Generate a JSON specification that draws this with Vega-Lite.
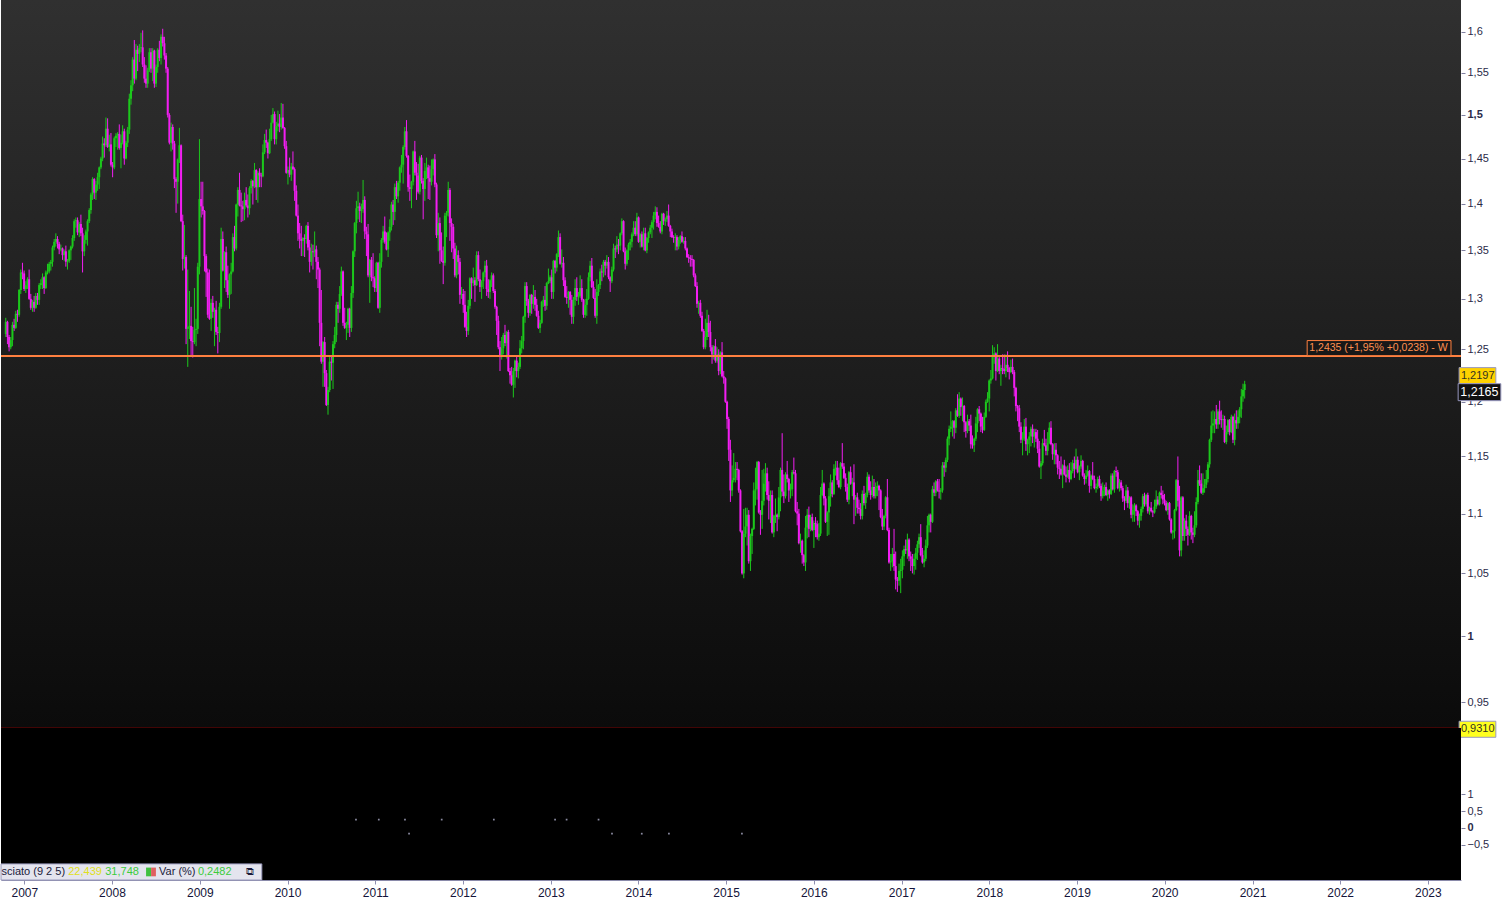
{
"$schema":"https://vega.github.io/schema/vega-lite/v6.json",
"background":"#ffffff",
"padding":0,
"spacing":0,
"bounds":"flush",
"config":{"view":{"stroke":null},"font":"Liberation Sans","axis":{"title":null,"grid":false,"domain":false,"labelFont":"Liberation Sans","labelFontSize":11,"labelColor":"#2a2a48","tickColor":"#8080a0","tickSize":4,"labelPadding":2}},
"datasets":{"ohlc":[
{"d":"2006-09-25","o":1.265,"h":1.281,"l":1.262,"c":1.277},
{"d":"2006-10-02","o":1.277,"h":1.278,"l":1.255,"c":1.262},
{"d":"2006-10-09","o":1.262,"h":1.264,"l":1.248,"c":1.252},
{"d":"2006-10-16","o":1.252,"h":1.262,"l":1.25,"c":1.259},
{"d":"2006-10-23","o":1.259,"h":1.277,"l":1.253,"c":1.274},
{"d":"2006-10-30","o":1.274,"h":1.28,"l":1.268,"c":1.271},
{"d":"2006-11-06","o":1.271,"h":1.288,"l":1.27,"c":1.285},
{"d":"2006-11-13","o":1.285,"h":1.289,"l":1.277,"c":1.284},
{"d":"2006-11-20","o":1.284,"h":1.31,"l":1.282,"c":1.309},
{"d":"2006-11-27","o":1.309,"h":1.33,"l":1.305,"c":1.327},
{"d":"2006-12-04","o":1.327,"h":1.337,"l":1.32,"c":1.326},
{"d":"2006-12-11","o":1.326,"h":1.329,"l":1.308,"c":1.31},
{"d":"2006-12-18","o":1.31,"h":1.318,"l":1.306,"c":1.314},
{"d":"2006-12-25","o":1.314,"h":1.322,"l":1.31,"c":1.32},
{"d":"2007-01-01","o":1.32,"h":1.33,"l":1.299,"c":1.3},
{"d":"2007-01-08","o":1.3,"h":1.305,"l":1.289,"c":1.291},
{"d":"2007-01-15","o":1.291,"h":1.299,"l":1.287,"c":1.297},
{"d":"2007-01-22","o":1.297,"h":1.303,"l":1.287,"c":1.291},
{"d":"2007-01-29","o":1.291,"h":1.306,"l":1.29,"c":1.303},
{"d":"2007-02-05","o":1.303,"h":1.306,"l":1.294,"c":1.299},
{"d":"2007-02-12","o":1.299,"h":1.316,"l":1.294,"c":1.314},
{"d":"2007-02-19","o":1.314,"h":1.32,"l":1.31,"c":1.316},
{"d":"2007-02-26","o":1.316,"h":1.326,"l":1.31,"c":1.322},
{"d":"2007-03-05","o":1.322,"h":1.323,"l":1.305,"c":1.311},
{"d":"2007-03-12","o":1.311,"h":1.329,"l":1.31,"c":1.327},
{"d":"2007-03-19","o":1.327,"h":1.336,"l":1.325,"c":1.328},
{"d":"2007-03-26","o":1.328,"h":1.338,"l":1.326,"c":1.336},
{"d":"2007-04-02","o":1.336,"h":1.34,"l":1.329,"c":1.338},
{"d":"2007-04-09","o":1.338,"h":1.355,"l":1.333,"c":1.353},
{"d":"2007-04-16","o":1.353,"h":1.362,"l":1.35,"c":1.359},
{"d":"2007-04-23","o":1.359,"h":1.368,"l":1.354,"c":1.362},
{"d":"2007-04-30","o":1.362,"h":1.365,"l":1.352,"c":1.357},
{"d":"2007-05-07","o":1.357,"h":1.359,"l":1.346,"c":1.351},
{"d":"2007-05-14","o":1.351,"h":1.356,"l":1.349,"c":1.352},
{"d":"2007-05-21","o":1.352,"h":1.353,"l":1.34,"c":1.345},
{"d":"2007-05-28","o":1.345,"h":1.351,"l":1.339,"c":1.349},
{"d":"2007-06-04","o":1.349,"h":1.355,"l":1.333,"c":1.338},
{"d":"2007-06-11","o":1.338,"h":1.341,"l":1.33,"c":1.339},
{"d":"2007-06-18","o":1.339,"h":1.351,"l":1.337,"c":1.35},
{"d":"2007-06-25","o":1.35,"h":1.355,"l":1.34,"c":1.354},
{"d":"2007-07-02","o":1.354,"h":1.366,"l":1.352,"c":1.363},
{"d":"2007-07-09","o":1.363,"h":1.383,"l":1.36,"c":1.381},
{"d":"2007-07-16","o":1.381,"h":1.385,"l":1.374,"c":1.382},
{"d":"2007-07-23","o":1.382,"h":1.385,"l":1.366,"c":1.369},
{"d":"2007-07-30","o":1.369,"h":1.38,"l":1.364,"c":1.378},
{"d":"2007-08-06","o":1.378,"h":1.388,"l":1.365,"c":1.368},
{"d":"2007-08-13","o":1.368,"h":1.374,"l":1.327,"c":1.349},
{"d":"2007-08-20","o":1.349,"h":1.366,"l":1.344,"c":1.361},
{"d":"2007-08-27","o":1.361,"h":1.372,"l":1.357,"c":1.37},
{"d":"2007-09-03","o":1.37,"h":1.383,"l":1.355,"c":1.381},
{"d":"2007-09-10","o":1.381,"h":1.395,"l":1.379,"c":1.393},
{"d":"2007-09-17","o":1.393,"h":1.412,"l":1.389,"c":1.41},
{"d":"2007-09-24","o":1.41,"h":1.429,"l":1.404,"c":1.427},
{"d":"2007-10-01","o":1.427,"h":1.428,"l":1.405,"c":1.412},
{"d":"2007-10-08","o":1.412,"h":1.425,"l":1.404,"c":1.421},
{"d":"2007-10-15","o":1.421,"h":1.434,"l":1.414,"c":1.429},
{"d":"2007-10-22","o":1.429,"h":1.441,"l":1.416,"c":1.44},
{"d":"2007-10-29","o":1.44,"h":1.452,"l":1.438,"c":1.45},
{"d":"2007-11-05","o":1.45,"h":1.475,"l":1.447,"c":1.467},
{"d":"2007-11-12","o":1.467,"h":1.473,"l":1.451,"c":1.465},
{"d":"2007-11-19","o":1.465,"h":1.497,"l":1.463,"c":1.484},
{"d":"2007-11-26","o":1.484,"h":1.496,"l":1.462,"c":1.463},
{"d":"2007-12-03","o":1.463,"h":1.477,"l":1.458,"c":1.466},
{"d":"2007-12-10","o":1.466,"h":1.479,"l":1.441,"c":1.443},
{"d":"2007-12-17","o":1.443,"h":1.446,"l":1.429,"c":1.44},
{"d":"2007-12-24","o":1.44,"h":1.475,"l":1.438,"c":1.473},
{"d":"2007-12-31","o":1.473,"h":1.479,"l":1.463,"c":1.476},
{"d":"2008-01-07","o":1.476,"h":1.48,"l":1.46,"c":1.478},
{"d":"2008-01-14","o":1.478,"h":1.489,"l":1.46,"c":1.462},
{"d":"2008-01-21","o":1.462,"h":1.477,"l":1.439,"c":1.468},
{"d":"2008-01-28","o":1.468,"h":1.488,"l":1.466,"c":1.481},
{"d":"2008-02-04","o":1.481,"h":1.484,"l":1.443,"c":1.45},
{"d":"2008-02-11","o":1.45,"h":1.47,"l":1.449,"c":1.468},
{"d":"2008-02-18","o":1.468,"h":1.486,"l":1.463,"c":1.483},
{"d":"2008-02-25","o":1.483,"h":1.525,"l":1.478,"c":1.519},
{"d":"2008-03-03","o":1.519,"h":1.541,"l":1.512,"c":1.535},
{"d":"2008-03-10","o":1.535,"h":1.569,"l":1.528,"c":1.566},
{"d":"2008-03-17","o":1.566,"h":1.59,"l":1.537,"c":1.543},
{"d":"2008-03-24","o":1.543,"h":1.585,"l":1.541,"c":1.578},
{"d":"2008-03-31","o":1.578,"h":1.583,"l":1.552,"c":1.573},
{"d":"2008-04-07","o":1.573,"h":1.585,"l":1.563,"c":1.58},
{"d":"2008-04-14","o":1.58,"h":1.599,"l":1.575,"c":1.581},
{"d":"2008-04-21","o":1.581,"h":1.602,"l":1.557,"c":1.56},
{"d":"2008-04-28","o":1.56,"h":1.569,"l":1.538,"c":1.543},
{"d":"2008-05-05","o":1.543,"h":1.559,"l":1.532,"c":1.537},
{"d":"2008-05-12","o":1.537,"h":1.556,"l":1.532,"c":1.553},
{"d":"2008-05-19","o":1.553,"h":1.58,"l":1.551,"c":1.575},
{"d":"2008-05-26","o":1.575,"h":1.58,"l":1.55,"c":1.555},
{"d":"2008-06-02","o":1.555,"h":1.58,"l":1.54,"c":1.577},
{"d":"2008-06-09","o":1.577,"h":1.578,"l":1.532,"c":1.537},
{"d":"2008-06-16","o":1.537,"h":1.56,"l":1.533,"c":1.557},
{"d":"2008-06-23","o":1.557,"h":1.58,"l":1.55,"c":1.578},
{"d":"2008-06-30","o":1.578,"h":1.589,"l":1.564,"c":1.568},
{"d":"2008-07-07","o":1.568,"h":1.597,"l":1.56,"c":1.594},
{"d":"2008-07-14","o":1.594,"h":1.604,"l":1.582,"c":1.586},
{"d":"2008-07-21","o":1.586,"h":1.594,"l":1.566,"c":1.571},
{"d":"2008-07-28","o":1.571,"h":1.574,"l":1.55,"c":1.555},
{"d":"2008-08-04","o":1.555,"h":1.557,"l":1.497,"c":1.5},
{"d":"2008-08-11","o":1.5,"h":1.502,"l":1.466,"c":1.468},
{"d":"2008-08-18","o":1.468,"h":1.491,"l":1.458,"c":1.486},
{"d":"2008-08-25","o":1.486,"h":1.489,"l":1.46,"c":1.467},
{"d":"2008-09-01","o":1.467,"h":1.47,"l":1.417,"c":1.427},
{"d":"2008-09-08","o":1.427,"h":1.429,"l":1.39,"c":1.424},
{"d":"2008-09-15","o":1.424,"h":1.45,"l":1.4,"c":1.449},
{"d":"2008-09-22","o":1.449,"h":1.485,"l":1.445,"c":1.465},
{"d":"2008-09-29","o":1.465,"h":1.466,"l":1.38,"c":1.381},
{"d":"2008-10-06","o":1.381,"h":1.388,"l":1.329,"c":1.341},
{"d":"2008-10-13","o":1.341,"h":1.377,"l":1.331,"c":1.343},
{"d":"2008-10-20","o":1.343,"h":1.345,"l":1.255,"c":1.27},
{"d":"2008-10-27","o":1.27,"h":1.33,"l":1.233,"c":1.272},
{"d":"2008-11-03","o":1.272,"h":1.308,"l":1.26,"c":1.273},
{"d":"2008-11-10","o":1.273,"h":1.292,"l":1.244,"c":1.258},
{"d":"2008-11-17","o":1.258,"h":1.272,"l":1.242,"c":1.257},
{"d":"2008-11-24","o":1.257,"h":1.311,"l":1.255,"c":1.269},
{"d":"2008-12-01","o":1.269,"h":1.28,"l":1.253,"c":1.27},
{"d":"2008-12-08","o":1.27,"h":1.337,"l":1.265,"c":1.333},
{"d":"2008-12-15","o":1.333,"h":1.472,"l":1.325,"c":1.405},
{"d":"2008-12-22","o":1.405,"h":1.424,"l":1.385,"c":1.397},
{"d":"2008-12-29","o":1.397,"h":1.424,"l":1.388,"c":1.392},
{"d":"2009-01-05","o":1.392,"h":1.393,"l":1.328,"c":1.344},
{"d":"2009-01-12","o":1.344,"h":1.346,"l":1.302,"c":1.327},
{"d":"2009-01-19","o":1.327,"h":1.331,"l":1.281,"c":1.284},
{"d":"2009-01-26","o":1.284,"h":1.33,"l":1.279,"c":1.28},
{"d":"2009-02-02","o":1.28,"h":1.3,"l":1.268,"c":1.296},
{"d":"2009-02-09","o":1.296,"h":1.303,"l":1.281,"c":1.287},
{"d":"2009-02-16","o":1.287,"h":1.291,"l":1.253,"c":1.289},
{"d":"2009-02-23","o":1.289,"h":1.298,"l":1.264,"c":1.267},
{"d":"2009-03-02","o":1.267,"h":1.272,"l":1.246,"c":1.266},
{"d":"2009-03-09","o":1.266,"h":1.296,"l":1.257,"c":1.292},
{"d":"2009-03-16","o":1.292,"h":1.374,"l":1.29,"c":1.362},
{"d":"2009-03-23","o":1.362,"h":1.37,"l":1.328,"c":1.329},
{"d":"2009-03-30","o":1.329,"h":1.349,"l":1.311,"c":1.348},
{"d":"2009-04-06","o":1.348,"h":1.354,"l":1.307,"c":1.319},
{"d":"2009-04-13","o":1.319,"h":1.334,"l":1.301,"c":1.304},
{"d":"2009-04-20","o":1.304,"h":1.326,"l":1.29,"c":1.325},
{"d":"2009-04-27","o":1.325,"h":1.337,"l":1.305,"c":1.328},
{"d":"2009-05-04","o":1.328,"h":1.368,"l":1.327,"c":1.364},
{"d":"2009-05-11","o":1.364,"h":1.376,"l":1.349,"c":1.352},
{"d":"2009-05-18","o":1.352,"h":1.4,"l":1.35,"c":1.399},
{"d":"2009-05-25","o":1.399,"h":1.418,"l":1.386,"c":1.415},
{"d":"2009-06-01","o":1.415,"h":1.434,"l":1.397,"c":1.398},
{"d":"2009-06-08","o":1.398,"h":1.412,"l":1.38,"c":1.397},
{"d":"2009-06-15","o":1.397,"h":1.403,"l":1.381,"c":1.394},
{"d":"2009-06-22","o":1.394,"h":1.412,"l":1.382,"c":1.404},
{"d":"2009-06-29","o":1.404,"h":1.418,"l":1.396,"c":1.398},
{"d":"2009-07-06","o":1.398,"h":1.41,"l":1.385,"c":1.395},
{"d":"2009-07-13","o":1.395,"h":1.419,"l":1.388,"c":1.417},
{"d":"2009-07-20","o":1.417,"h":1.427,"l":1.411,"c":1.425},
{"d":"2009-07-27","o":1.425,"h":1.426,"l":1.399,"c":1.419},
{"d":"2009-08-03","o":1.419,"h":1.445,"l":1.417,"c":1.437},
{"d":"2009-08-10","o":1.437,"h":1.438,"l":1.404,"c":1.418},
{"d":"2009-08-17","o":1.418,"h":1.436,"l":1.401,"c":1.434},
{"d":"2009-08-24","o":1.434,"h":1.439,"l":1.418,"c":1.431},
{"d":"2009-08-31","o":1.431,"h":1.434,"l":1.418,"c":1.43},
{"d":"2009-09-07","o":1.43,"h":1.466,"l":1.429,"c":1.457},
{"d":"2009-09-14","o":1.457,"h":1.478,"l":1.455,"c":1.471},
{"d":"2009-09-21","o":1.471,"h":1.483,"l":1.462,"c":1.468},
{"d":"2009-09-28","o":1.468,"h":1.469,"l":1.45,"c":1.456},
{"d":"2009-10-05","o":1.456,"h":1.484,"l":1.455,"c":1.472},
{"d":"2009-10-12","o":1.472,"h":1.5,"l":1.47,"c":1.491},
{"d":"2009-10-19","o":1.491,"h":1.508,"l":1.49,"c":1.501},
{"d":"2009-10-26","o":1.501,"h":1.504,"l":1.466,"c":1.472},
{"d":"2009-11-02","o":1.472,"h":1.492,"l":1.466,"c":1.487},
{"d":"2009-11-09","o":1.487,"h":1.505,"l":1.481,"c":1.49},
{"d":"2009-11-16","o":1.49,"h":1.501,"l":1.48,"c":1.486},
{"d":"2009-11-23","o":1.486,"h":1.514,"l":1.483,"c":1.497},
{"d":"2009-11-30","o":1.497,"h":1.513,"l":1.484,"c":1.485},
{"d":"2009-12-07","o":1.485,"h":1.486,"l":1.461,"c":1.464},
{"d":"2009-12-14","o":1.464,"h":1.47,"l":1.433,"c":1.434},
{"d":"2009-12-21","o":1.434,"h":1.441,"l":1.421,"c":1.437},
{"d":"2009-12-28","o":1.437,"h":1.451,"l":1.429,"c":1.432},
{"d":"2010-01-04","o":1.432,"h":1.445,"l":1.425,"c":1.441},
{"d":"2010-01-11","o":1.441,"h":1.458,"l":1.437,"c":1.438},
{"d":"2010-01-18","o":1.438,"h":1.44,"l":1.403,"c":1.414},
{"d":"2010-01-25","o":1.414,"h":1.42,"l":1.386,"c":1.387},
{"d":"2010-02-01","o":1.387,"h":1.399,"l":1.36,"c":1.368},
{"d":"2010-02-08","o":1.368,"h":1.379,"l":1.352,"c":1.362},
{"d":"2010-02-15","o":1.362,"h":1.376,"l":1.344,"c":1.36},
{"d":"2010-02-22","o":1.36,"h":1.364,"l":1.344,"c":1.363},
{"d":"2010-03-01","o":1.363,"h":1.367,"l":1.343,"c":1.362},
{"d":"2010-03-08","o":1.362,"h":1.377,"l":1.357,"c":1.376},
{"d":"2010-03-15","o":1.376,"h":1.38,"l":1.35,"c":1.353},
{"d":"2010-03-22","o":1.353,"h":1.361,"l":1.327,"c":1.338},
{"d":"2010-03-29","o":1.338,"h":1.357,"l":1.334,"c":1.349},
{"d":"2010-04-05","o":1.349,"h":1.356,"l":1.33,"c":1.348},
{"d":"2010-04-12","o":1.348,"h":1.37,"l":1.343,"c":1.351},
{"d":"2010-04-19","o":1.351,"h":1.355,"l":1.32,"c":1.338},
{"d":"2010-04-26","o":1.338,"h":1.343,"l":1.311,"c":1.33},
{"d":"2010-05-03","o":1.33,"h":1.332,"l":1.253,"c":1.276},
{"d":"2010-05-10","o":1.276,"h":1.309,"l":1.236,"c":1.238},
{"d":"2010-05-17","o":1.238,"h":1.258,"l":1.214,"c":1.257},
{"d":"2010-05-24","o":1.257,"h":1.262,"l":1.214,"c":1.227},
{"d":"2010-05-31","o":1.227,"h":1.23,"l":1.196,"c":1.197},
{"d":"2010-06-07","o":1.197,"h":1.214,"l":1.188,"c":1.211},
{"d":"2010-06-14","o":1.211,"h":1.244,"l":1.209,"c":1.238},
{"d":"2010-06-21","o":1.238,"h":1.244,"l":1.22,"c":1.237},
{"d":"2010-06-28","o":1.237,"h":1.258,"l":1.212,"c":1.255},
{"d":"2010-07-05","o":1.255,"h":1.272,"l":1.251,"c":1.264},
{"d":"2010-07-12","o":1.264,"h":1.297,"l":1.257,"c":1.294},
{"d":"2010-07-19","o":1.294,"h":1.297,"l":1.276,"c":1.29},
{"d":"2010-07-26","o":1.29,"h":1.313,"l":1.286,"c":1.305},
{"d":"2010-08-02","o":1.305,"h":1.333,"l":1.303,"c":1.328},
{"d":"2010-08-09","o":1.328,"h":1.329,"l":1.273,"c":1.276},
{"d":"2010-08-16","o":1.276,"h":1.291,"l":1.27,"c":1.271},
{"d":"2010-08-23","o":1.271,"h":1.277,"l":1.259,"c":1.274},
{"d":"2010-08-30","o":1.274,"h":1.291,"l":1.266,"c":1.29},
{"d":"2010-09-06","o":1.29,"h":1.291,"l":1.262,"c":1.271},
{"d":"2010-09-13","o":1.271,"h":1.313,"l":1.267,"c":1.306},
{"d":"2010-09-20","o":1.306,"h":1.35,"l":1.301,"c":1.349},
{"d":"2010-09-27","o":1.349,"h":1.38,"l":1.343,"c":1.379},
{"d":"2010-10-04","o":1.379,"h":1.403,"l":1.368,"c":1.395},
{"d":"2010-10-11","o":1.395,"h":1.413,"l":1.383,"c":1.397},
{"d":"2010-10-18","o":1.397,"h":1.401,"l":1.38,"c":1.392},
{"d":"2010-10-25","o":1.392,"h":1.4,"l":1.379,"c":1.394},
{"d":"2010-11-01","o":1.394,"h":1.426,"l":1.39,"c":1.404},
{"d":"2010-11-08","o":1.404,"h":1.408,"l":1.362,"c":1.37},
{"d":"2010-11-15","o":1.37,"h":1.375,"l":1.344,"c":1.367},
{"d":"2010-11-22","o":1.367,"h":1.378,"l":1.322,"c":1.324},
{"d":"2010-11-29","o":1.324,"h":1.341,"l":1.296,"c":1.34},
{"d":"2010-12-06","o":1.34,"h":1.343,"l":1.318,"c":1.322},
{"d":"2010-12-13","o":1.322,"h":1.347,"l":1.312,"c":1.321},
{"d":"2010-12-20","o":1.321,"h":1.323,"l":1.307,"c":1.311},
{"d":"2010-12-27","o":1.311,"h":1.338,"l":1.307,"c":1.337},
{"d":"2011-01-03","o":1.337,"h":1.338,"l":1.29,"c":1.291},
{"d":"2011-01-10","o":1.291,"h":1.347,"l":1.286,"c":1.338},
{"d":"2011-01-17","o":1.338,"h":1.363,"l":1.332,"c":1.361},
{"d":"2011-01-24","o":1.361,"h":1.376,"l":1.358,"c":1.37},
{"d":"2011-01-31","o":1.37,"h":1.386,"l":1.357,"c":1.359},
{"d":"2011-02-07","o":1.359,"h":1.369,"l":1.35,"c":1.351},
{"d":"2011-02-14","o":1.351,"h":1.37,"l":1.343,"c":1.369},
{"d":"2011-02-21","o":1.369,"h":1.383,"l":1.36,"c":1.375},
{"d":"2011-02-28","o":1.375,"h":1.402,"l":1.371,"c":1.399},
{"d":"2011-03-07","o":1.399,"h":1.404,"l":1.377,"c":1.391},
{"d":"2011-03-14","o":1.391,"h":1.422,"l":1.382,"c":1.418},
{"d":"2011-03-21","o":1.418,"h":1.425,"l":1.405,"c":1.408},
{"d":"2011-03-28","o":1.408,"h":1.425,"l":1.401,"c":1.423},
{"d":"2011-04-04","o":1.423,"h":1.441,"l":1.414,"c":1.44},
{"d":"2011-04-11","o":1.44,"h":1.454,"l":1.434,"c":1.443},
{"d":"2011-04-18","o":1.443,"h":1.465,"l":1.422,"c":1.463},
{"d":"2011-04-25","o":1.463,"h":1.486,"l":1.46,"c":1.481},
{"d":"2011-05-02","o":1.481,"h":1.494,"l":1.451,"c":1.453},
{"d":"2011-05-09","o":1.453,"h":1.454,"l":1.413,"c":1.418},
{"d":"2011-05-16","o":1.418,"h":1.432,"l":1.403,"c":1.416},
{"d":"2011-05-23","o":1.416,"h":1.425,"l":1.395,"c":1.424},
{"d":"2011-05-30","o":1.424,"h":1.459,"l":1.42,"c":1.458},
{"d":"2011-06-06","o":1.458,"h":1.47,"l":1.431,"c":1.434},
{"d":"2011-06-13","o":1.434,"h":1.446,"l":1.404,"c":1.431},
{"d":"2011-06-20","o":1.431,"h":1.444,"l":1.411,"c":1.413},
{"d":"2011-06-27","o":1.413,"h":1.453,"l":1.41,"c":1.451},
{"d":"2011-07-04","o":1.451,"h":1.454,"l":1.422,"c":1.425},
{"d":"2011-07-11","o":1.425,"h":1.428,"l":1.383,"c":1.416},
{"d":"2011-07-18","o":1.416,"h":1.445,"l":1.403,"c":1.436},
{"d":"2011-07-25","o":1.436,"h":1.451,"l":1.427,"c":1.44},
{"d":"2011-08-01","o":1.44,"h":1.443,"l":1.405,"c":1.428},
{"d":"2011-08-08","o":1.428,"h":1.442,"l":1.404,"c":1.424},
{"d":"2011-08-15","o":1.424,"h":1.449,"l":1.42,"c":1.438},
{"d":"2011-08-22","o":1.438,"h":1.45,"l":1.431,"c":1.449},
{"d":"2011-08-29","o":1.449,"h":1.455,"l":1.418,"c":1.421},
{"d":"2011-09-05","o":1.421,"h":1.423,"l":1.363,"c":1.366},
{"d":"2011-09-12","o":1.366,"h":1.39,"l":1.349,"c":1.379},
{"d":"2011-09-19","o":1.379,"h":1.385,"l":1.336,"c":1.35},
{"d":"2011-09-26","o":1.35,"h":1.369,"l":1.338,"c":1.339},
{"d":"2011-10-03","o":1.339,"h":1.354,"l":1.315,"c":1.337},
{"d":"2011-10-10","o":1.337,"h":1.39,"l":1.334,"c":1.387},
{"d":"2011-10-17","o":1.387,"h":1.392,"l":1.364,"c":1.39},
{"d":"2011-10-24","o":1.39,"h":1.424,"l":1.386,"c":1.415},
{"d":"2011-10-31","o":1.415,"h":1.417,"l":1.36,"c":1.379},
{"d":"2011-11-07","o":1.379,"h":1.384,"l":1.348,"c":1.375},
{"d":"2011-11-14","o":1.375,"h":1.378,"l":1.341,"c":1.352},
{"d":"2011-11-21","o":1.352,"h":1.358,"l":1.322,"c":1.324},
{"d":"2011-11-28","o":1.324,"h":1.355,"l":1.321,"c":1.345},
{"d":"2011-12-05","o":1.345,"h":1.35,"l":1.325,"c":1.338},
{"d":"2011-12-12","o":1.338,"h":1.342,"l":1.295,"c":1.304},
{"d":"2011-12-19","o":1.304,"h":1.312,"l":1.3,"c":1.305},
{"d":"2011-12-26","o":1.305,"h":1.31,"l":1.286,"c":1.294},
{"d":"2012-01-02","o":1.294,"h":1.308,"l":1.271,"c":1.272},
{"d":"2012-01-09","o":1.272,"h":1.287,"l":1.262,"c":1.268},
{"d":"2012-01-16","o":1.268,"h":1.299,"l":1.264,"c":1.293},
{"d":"2012-01-23","o":1.293,"h":1.322,"l":1.29,"c":1.321},
{"d":"2012-01-30","o":1.321,"h":1.322,"l":1.3,"c":1.316},
{"d":"2012-02-06","o":1.316,"h":1.332,"l":1.313,"c":1.319},
{"d":"2012-02-13","o":1.319,"h":1.322,"l":1.297,"c":1.314},
{"d":"2012-02-20","o":1.314,"h":1.349,"l":1.313,"c":1.345},
{"d":"2012-02-27","o":1.345,"h":1.349,"l":1.318,"c":1.32},
{"d":"2012-03-05","o":1.32,"h":1.33,"l":1.307,"c":1.312},
{"d":"2012-03-12","o":1.312,"h":1.319,"l":1.3,"c":1.318},
{"d":"2012-03-19","o":1.318,"h":1.328,"l":1.31,"c":1.327},
{"d":"2012-03-26","o":1.327,"h":1.339,"l":1.322,"c":1.334},
{"d":"2012-04-02","o":1.334,"h":1.34,"l":1.303,"c":1.31},
{"d":"2012-04-09","o":1.31,"h":1.32,"l":1.301,"c":1.307},
{"d":"2012-04-16","o":1.307,"h":1.32,"l":1.3,"c":1.319},
{"d":"2012-04-23","o":1.319,"h":1.327,"l":1.312,"c":1.324},
{"d":"2012-04-30","o":1.324,"h":1.326,"l":1.306,"c":1.308},
{"d":"2012-05-07","o":1.308,"h":1.31,"l":1.29,"c":1.292},
{"d":"2012-05-14","o":1.292,"h":1.293,"l":1.264,"c":1.278},
{"d":"2012-05-21","o":1.278,"h":1.283,"l":1.25,"c":1.252},
{"d":"2012-05-28","o":1.252,"h":1.258,"l":1.229,"c":1.243},
{"d":"2012-06-04","o":1.243,"h":1.262,"l":1.24,"c":1.251},
{"d":"2012-06-11","o":1.251,"h":1.266,"l":1.245,"c":1.264},
{"d":"2012-06-18","o":1.264,"h":1.274,"l":1.253,"c":1.256},
{"d":"2012-06-25","o":1.256,"h":1.268,"l":1.241,"c":1.267},
{"d":"2012-07-02","o":1.267,"h":1.269,"l":1.228,"c":1.229},
{"d":"2012-07-09","o":1.229,"h":1.232,"l":1.217,"c":1.225},
{"d":"2012-07-16","o":1.225,"h":1.233,"l":1.215,"c":1.216},
{"d":"2012-07-23","o":1.216,"h":1.232,"l":1.204,"c":1.229},
{"d":"2012-07-30","o":1.229,"h":1.24,"l":1.213,"c":1.239},
{"d":"2012-08-06","o":1.239,"h":1.244,"l":1.223,"c":1.229},
{"d":"2012-08-13","o":1.229,"h":1.237,"l":1.222,"c":1.233},
{"d":"2012-08-20","o":1.233,"h":1.259,"l":1.231,"c":1.251},
{"d":"2012-08-27","o":1.251,"h":1.263,"l":1.246,"c":1.258},
{"d":"2012-09-03","o":1.258,"h":1.283,"l":1.25,"c":1.282},
{"d":"2012-09-10","o":1.282,"h":1.317,"l":1.276,"c":1.313},
{"d":"2012-09-17","o":1.313,"h":1.317,"l":1.293,"c":1.298},
{"d":"2012-09-24","o":1.298,"h":1.3,"l":1.281,"c":1.286},
{"d":"2012-10-01","o":1.286,"h":1.305,"l":1.283,"c":1.304},
{"d":"2012-10-08","o":1.304,"h":1.305,"l":1.285,"c":1.295},
{"d":"2012-10-15","o":1.295,"h":1.314,"l":1.29,"c":1.302},
{"d":"2012-10-22","o":1.302,"h":1.309,"l":1.288,"c":1.294},
{"d":"2012-10-29","o":1.294,"h":1.3,"l":1.282,"c":1.283},
{"d":"2012-11-05","o":1.283,"h":1.288,"l":1.27,"c":1.271},
{"d":"2012-11-12","o":1.271,"h":1.279,"l":1.266,"c":1.276},
{"d":"2012-11-19","o":1.276,"h":1.298,"l":1.275,"c":1.297},
{"d":"2012-11-26","o":1.297,"h":1.303,"l":1.292,"c":1.299},
{"d":"2012-12-03","o":1.299,"h":1.313,"l":1.288,"c":1.293},
{"d":"2012-12-10","o":1.293,"h":1.317,"l":1.289,"c":1.316},
{"d":"2012-12-17","o":1.316,"h":1.331,"l":1.315,"c":1.318},
{"d":"2012-12-24","o":1.318,"h":1.324,"l":1.316,"c":1.322},
{"d":"2012-12-31","o":1.322,"h":1.33,"l":1.3,"c":1.307},
{"d":"2013-01-07","o":1.307,"h":1.34,"l":1.3,"c":1.339},
{"d":"2013-01-14","o":1.339,"h":1.34,"l":1.326,"c":1.332},
{"d":"2013-01-21","o":1.332,"h":1.347,"l":1.328,"c":1.346},
{"d":"2013-01-28","o":1.346,"h":1.371,"l":1.343,"c":1.364},
{"d":"2013-02-04","o":1.364,"h":1.368,"l":1.335,"c":1.336},
{"d":"2013-02-11","o":1.336,"h":1.351,"l":1.332,"c":1.337},
{"d":"2013-02-18","o":1.337,"h":1.343,"l":1.313,"c":1.319},
{"d":"2013-02-25","o":1.319,"h":1.322,"l":1.301,"c":1.302},
{"d":"2013-03-04","o":1.302,"h":1.313,"l":1.295,"c":1.301},
{"d":"2013-03-11","o":1.301,"h":1.308,"l":1.291,"c":1.307},
{"d":"2013-03-18","o":1.307,"h":1.308,"l":1.284,"c":1.299},
{"d":"2013-03-25","o":1.299,"h":1.304,"l":1.275,"c":1.282},
{"d":"2013-04-01","o":1.282,"h":1.302,"l":1.275,"c":1.299},
{"d":"2013-04-08","o":1.299,"h":1.32,"l":1.293,"c":1.311},
{"d":"2013-04-15","o":1.311,"h":1.322,"l":1.298,"c":1.302},
{"d":"2013-04-22","o":1.302,"h":1.307,"l":1.294,"c":1.303},
{"d":"2013-04-29","o":1.303,"h":1.324,"l":1.301,"c":1.311},
{"d":"2013-05-06","o":1.311,"h":1.32,"l":1.297,"c":1.299},
{"d":"2013-05-13","o":1.299,"h":1.3,"l":1.281,"c":1.284},
{"d":"2013-05-20","o":1.284,"h":1.3,"l":1.281,"c":1.294},
{"d":"2013-05-27","o":1.294,"h":1.31,"l":1.283,"c":1.3},
{"d":"2013-06-03","o":1.3,"h":1.327,"l":1.299,"c":1.322},
{"d":"2013-06-10","o":1.322,"h":1.339,"l":1.318,"c":1.334},
{"d":"2013-06-17","o":1.334,"h":1.342,"l":1.311,"c":1.312},
{"d":"2013-06-24","o":1.312,"h":1.318,"l":1.3,"c":1.301},
{"d":"2013-07-01","o":1.301,"h":1.31,"l":1.281,"c":1.283},
{"d":"2013-07-08","o":1.283,"h":1.32,"l":1.275,"c":1.307},
{"d":"2013-07-15","o":1.307,"h":1.315,"l":1.303,"c":1.314},
{"d":"2013-07-22","o":1.314,"h":1.331,"l":1.31,"c":1.328},
{"d":"2013-07-29","o":1.328,"h":1.335,"l":1.318,"c":1.327},
{"d":"2013-08-05","o":1.327,"h":1.34,"l":1.322,"c":1.338},
{"d":"2013-08-12","o":1.338,"h":1.34,"l":1.324,"c":1.334},
{"d":"2013-08-19","o":1.334,"h":1.345,"l":1.331,"c":1.338},
{"d":"2013-08-26","o":1.338,"h":1.343,"l":1.32,"c":1.322},
{"d":"2013-09-02","o":1.322,"h":1.323,"l":1.307,"c":1.318},
{"d":"2013-09-09","o":1.318,"h":1.333,"l":1.316,"c":1.33},
{"d":"2013-09-16","o":1.33,"h":1.357,"l":1.328,"c":1.352},
{"d":"2013-09-23","o":1.352,"h":1.355,"l":1.342,"c":1.351},
{"d":"2013-09-30","o":1.351,"h":1.365,"l":1.348,"c":1.356},
{"d":"2013-10-07","o":1.356,"h":1.362,"l":1.346,"c":1.355},
{"d":"2013-10-14","o":1.355,"h":1.369,"l":1.35,"c":1.368},
{"d":"2013-10-21","o":1.368,"h":1.384,"l":1.366,"c":1.381},
{"d":"2013-10-28","o":1.381,"h":1.382,"l":1.348,"c":1.349},
{"d":"2013-11-04","o":1.349,"h":1.353,"l":1.33,"c":1.336},
{"d":"2013-11-11","o":1.336,"h":1.351,"l":1.334,"c":1.35},
{"d":"2013-11-18","o":1.35,"h":1.358,"l":1.34,"c":1.356},
{"d":"2013-11-25","o":1.356,"h":1.362,"l":1.35,"c":1.359},
{"d":"2013-12-02","o":1.359,"h":1.369,"l":1.353,"c":1.367},
{"d":"2013-12-09","o":1.367,"h":1.381,"l":1.365,"c":1.374},
{"d":"2013-12-16","o":1.374,"h":1.381,"l":1.365,"c":1.367},
{"d":"2013-12-23","o":1.367,"h":1.39,"l":1.365,"c":1.385},
{"d":"2013-12-30","o":1.385,"h":1.386,"l":1.358,"c":1.359},
{"d":"2014-01-06","o":1.359,"h":1.368,"l":1.353,"c":1.367},
{"d":"2014-01-13","o":1.367,"h":1.37,"l":1.353,"c":1.354},
{"d":"2014-01-20","o":1.354,"h":1.374,"l":1.35,"c":1.368},
{"d":"2014-01-27","o":1.368,"h":1.374,"l":1.349,"c":1.35},
{"d":"2014-02-03","o":1.35,"h":1.364,"l":1.347,"c":1.363},
{"d":"2014-02-10","o":1.363,"h":1.37,"l":1.358,"c":1.369},
{"d":"2014-02-17","o":1.369,"h":1.377,"l":1.367,"c":1.374},
{"d":"2014-02-24","o":1.374,"h":1.382,"l":1.363,"c":1.38},
{"d":"2014-03-03","o":1.38,"h":1.391,"l":1.372,"c":1.387},
{"d":"2014-03-10","o":1.387,"h":1.397,"l":1.383,"c":1.391},
{"d":"2014-03-17","o":1.391,"h":1.396,"l":1.375,"c":1.379},
{"d":"2014-03-24","o":1.379,"h":1.387,"l":1.374,"c":1.375},
{"d":"2014-03-31","o":1.375,"h":1.381,"l":1.368,"c":1.37},
{"d":"2014-04-07","o":1.37,"h":1.39,"l":1.367,"c":1.389},
{"d":"2014-04-14","o":1.389,"h":1.39,"l":1.377,"c":1.381},
{"d":"2014-04-21","o":1.381,"h":1.385,"l":1.376,"c":1.383},
{"d":"2014-04-28","o":1.383,"h":1.392,"l":1.38,"c":1.387},
{"d":"2014-05-05","o":1.387,"h":1.399,"l":1.375,"c":1.376},
{"d":"2014-05-12","o":1.376,"h":1.377,"l":1.364,"c":1.37},
{"d":"2014-05-19","o":1.37,"h":1.373,"l":1.363,"c":1.364},
{"d":"2014-05-26","o":1.364,"h":1.366,"l":1.358,"c":1.363},
{"d":"2014-06-02","o":1.363,"h":1.368,"l":1.35,"c":1.364},
{"d":"2014-06-09","o":1.364,"h":1.366,"l":1.35,"c":1.354},
{"d":"2014-06-16","o":1.354,"h":1.364,"l":1.351,"c":1.361},
{"d":"2014-06-23","o":1.361,"h":1.366,"l":1.357,"c":1.365},
{"d":"2014-06-30","o":1.365,"h":1.37,"l":1.358,"c":1.359},
{"d":"2014-07-07","o":1.359,"h":1.364,"l":1.357,"c":1.36},
{"d":"2014-07-14","o":1.36,"h":1.364,"l":1.35,"c":1.352},
{"d":"2014-07-21","o":1.352,"h":1.353,"l":1.342,"c":1.343},
{"d":"2014-07-28","o":1.343,"h":1.346,"l":1.337,"c":1.342},
{"d":"2014-08-04","o":1.342,"h":1.345,"l":1.333,"c":1.341},
{"d":"2014-08-11","o":1.341,"h":1.345,"l":1.333,"c":1.34},
{"d":"2014-08-18","o":1.34,"h":1.341,"l":1.322,"c":1.324},
{"d":"2014-08-25","o":1.324,"h":1.326,"l":1.312,"c":1.313},
{"d":"2014-09-01","o":1.313,"h":1.317,"l":1.291,"c":1.295},
{"d":"2014-09-08","o":1.295,"h":1.298,"l":1.285,"c":1.296},
{"d":"2014-09-15","o":1.296,"h":1.299,"l":1.281,"c":1.283},
{"d":"2014-09-22","o":1.283,"h":1.287,"l":1.267,"c":1.268},
{"d":"2014-09-29","o":1.268,"h":1.27,"l":1.25,"c":1.252},
{"d":"2014-10-06","o":1.252,"h":1.28,"l":1.25,"c":1.262},
{"d":"2014-10-13","o":1.262,"h":1.289,"l":1.259,"c":1.276},
{"d":"2014-10-20","o":1.276,"h":1.284,"l":1.262,"c":1.267},
{"d":"2014-10-27","o":1.267,"h":1.278,"l":1.248,"c":1.252},
{"d":"2014-11-03","o":1.252,"h":1.254,"l":1.236,"c":1.245},
{"d":"2014-11-10","o":1.245,"h":1.254,"l":1.24,"c":1.253},
{"d":"2014-11-17","o":1.253,"h":1.26,"l":1.237,"c":1.239},
{"d":"2014-11-24","o":1.239,"h":1.252,"l":1.237,"c":1.245},
{"d":"2014-12-01","o":1.245,"h":1.25,"l":1.225,"c":1.229},
{"d":"2014-12-08","o":1.229,"h":1.248,"l":1.226,"c":1.247},
{"d":"2014-12-15","o":1.247,"h":1.257,"l":1.223,"c":1.224},
{"d":"2014-12-22","o":1.224,"h":1.229,"l":1.217,"c":1.222},
{"d":"2014-12-29","o":1.222,"h":1.223,"l":1.199,"c":1.2},
{"d":"2015-01-05","o":1.2,"h":1.201,"l":1.175,"c":1.184},
{"d":"2015-01-12","o":1.184,"h":1.186,"l":1.146,"c":1.156},
{"d":"2015-01-19","o":1.156,"h":1.165,"l":1.11,"c":1.12},
{"d":"2015-01-26","o":1.12,"h":1.142,"l":1.115,"c":1.129},
{"d":"2015-02-02","o":1.129,"h":1.153,"l":1.127,"c":1.131},
{"d":"2015-02-09","o":1.131,"h":1.145,"l":1.127,"c":1.139},
{"d":"2015-02-16","o":1.139,"h":1.145,"l":1.129,"c":1.138},
{"d":"2015-02-23","o":1.138,"h":1.139,"l":1.118,"c":1.12},
{"d":"2015-03-02","o":1.12,"h":1.121,"l":1.084,"c":1.085},
{"d":"2015-03-09","o":1.085,"h":1.086,"l":1.049,"c":1.05},
{"d":"2015-03-16","o":1.05,"h":1.104,"l":1.046,"c":1.083},
{"d":"2015-03-23","o":1.083,"h":1.105,"l":1.08,"c":1.089},
{"d":"2015-03-30","o":1.089,"h":1.105,"l":1.073,"c":1.099},
{"d":"2015-04-06","o":1.099,"h":1.103,"l":1.058,"c":1.06},
{"d":"2015-04-13","o":1.06,"h":1.083,"l":1.052,"c":1.081},
{"d":"2015-04-20","o":1.081,"h":1.088,"l":1.066,"c":1.087},
{"d":"2015-04-27","o":1.087,"h":1.127,"l":1.086,"c":1.12},
{"d":"2015-05-04","o":1.12,"h":1.14,"l":1.107,"c":1.121},
{"d":"2015-05-11","o":1.121,"h":1.146,"l":1.112,"c":1.145},
{"d":"2015-05-18","o":1.145,"h":1.146,"l":1.1,"c":1.101},
{"d":"2015-05-25","o":1.101,"h":1.103,"l":1.082,"c":1.099},
{"d":"2015-06-01","o":1.099,"h":1.138,"l":1.087,"c":1.111},
{"d":"2015-06-08","o":1.111,"h":1.139,"l":1.107,"c":1.126},
{"d":"2015-06-15","o":1.126,"h":1.144,"l":1.119,"c":1.135},
{"d":"2015-06-22","o":1.135,"h":1.14,"l":1.112,"c":1.116},
{"d":"2015-06-29","o":1.116,"h":1.128,"l":1.095,"c":1.111},
{"d":"2015-07-06","o":1.111,"h":1.12,"l":1.092,"c":1.116},
{"d":"2015-07-13","o":1.116,"h":1.12,"l":1.083,"c":1.084},
{"d":"2015-07-20","o":1.084,"h":1.099,"l":1.08,"c":1.098},
{"d":"2015-07-27","o":1.098,"h":1.113,"l":1.092,"c":1.099},
{"d":"2015-08-03","o":1.099,"h":1.1,"l":1.085,"c":1.097},
{"d":"2015-08-10","o":1.097,"h":1.123,"l":1.095,"c":1.114},
{"d":"2015-08-17","o":1.114,"h":1.14,"l":1.102,"c":1.138},
{"d":"2015-08-24","o":1.138,"h":1.171,"l":1.115,"c":1.119},
{"d":"2015-08-31","o":1.119,"h":1.134,"l":1.109,"c":1.115},
{"d":"2015-09-07","o":1.115,"h":1.136,"l":1.113,"c":1.134},
{"d":"2015-09-14","o":1.134,"h":1.146,"l":1.127,"c":1.13},
{"d":"2015-09-21","o":1.13,"h":1.131,"l":1.11,"c":1.12},
{"d":"2015-09-28","o":1.12,"h":1.126,"l":1.113,"c":1.121},
{"d":"2015-10-05","o":1.121,"h":1.138,"l":1.115,"c":1.136},
{"d":"2015-10-12","o":1.136,"h":1.149,"l":1.134,"c":1.135},
{"d":"2015-10-19","o":1.135,"h":1.138,"l":1.101,"c":1.102},
{"d":"2015-10-26","o":1.102,"h":1.11,"l":1.09,"c":1.1},
{"d":"2015-11-02","o":1.1,"h":1.104,"l":1.074,"c":1.075},
{"d":"2015-11-09","o":1.075,"h":1.083,"l":1.067,"c":1.077},
{"d":"2015-11-16","o":1.077,"h":1.078,"l":1.058,"c":1.065},
{"d":"2015-11-23","o":1.065,"h":1.066,"l":1.056,"c":1.059},
{"d":"2015-11-30","o":1.059,"h":1.098,"l":1.052,"c":1.088},
{"d":"2015-12-07","o":1.088,"h":1.104,"l":1.079,"c":1.099},
{"d":"2015-12-14","o":1.099,"h":1.106,"l":1.08,"c":1.087},
{"d":"2015-12-21","o":1.087,"h":1.099,"l":1.085,"c":1.097},
{"d":"2015-12-28","o":1.097,"h":1.1,"l":1.085,"c":1.086},
{"d":"2016-01-04","o":1.086,"h":1.094,"l":1.071,"c":1.092},
{"d":"2016-01-11","o":1.092,"h":1.097,"l":1.08,"c":1.091},
{"d":"2016-01-18","o":1.091,"h":1.094,"l":1.078,"c":1.08},
{"d":"2016-01-25","o":1.08,"h":1.092,"l":1.077,"c":1.083},
{"d":"2016-02-01","o":1.083,"h":1.123,"l":1.081,"c":1.116},
{"d":"2016-02-08","o":1.116,"h":1.138,"l":1.115,"c":1.126},
{"d":"2016-02-15","o":1.126,"h":1.127,"l":1.107,"c":1.113},
{"d":"2016-02-22","o":1.113,"h":1.115,"l":1.092,"c":1.093},
{"d":"2016-02-29","o":1.093,"h":1.102,"l":1.081,"c":1.101},
{"d":"2016-03-07","o":1.101,"h":1.122,"l":1.082,"c":1.115},
{"d":"2016-03-14","o":1.115,"h":1.134,"l":1.106,"c":1.127},
{"d":"2016-03-21","o":1.127,"h":1.129,"l":1.114,"c":1.117},
{"d":"2016-03-28","o":1.117,"h":1.143,"l":1.116,"c":1.139},
{"d":"2016-04-04","o":1.139,"h":1.146,"l":1.133,"c":1.14},
{"d":"2016-04-11","o":1.14,"h":1.146,"l":1.125,"c":1.129},
{"d":"2016-04-18","o":1.129,"h":1.14,"l":1.122,"c":1.123},
{"d":"2016-04-25","o":1.123,"h":1.145,"l":1.121,"c":1.144},
{"d":"2016-05-02","o":1.144,"h":1.162,"l":1.139,"c":1.141},
{"d":"2016-05-09","o":1.141,"h":1.144,"l":1.13,"c":1.131},
{"d":"2016-05-16","o":1.131,"h":1.135,"l":1.119,"c":1.123},
{"d":"2016-05-23","o":1.123,"h":1.126,"l":1.11,"c":1.112},
{"d":"2016-05-30","o":1.112,"h":1.137,"l":1.108,"c":1.136},
{"d":"2016-06-06","o":1.136,"h":1.141,"l":1.125,"c":1.126},
{"d":"2016-06-13","o":1.126,"h":1.131,"l":1.115,"c":1.127},
{"d":"2016-06-20","o":1.127,"h":1.143,"l":1.091,"c":1.112},
{"d":"2016-06-27","o":1.112,"h":1.116,"l":1.098,"c":1.114},
{"d":"2016-07-04","o":1.114,"h":1.118,"l":1.1,"c":1.105},
{"d":"2016-07-11","o":1.105,"h":1.112,"l":1.1,"c":1.104},
{"d":"2016-07-18","o":1.104,"h":1.109,"l":1.095,"c":1.098},
{"d":"2016-07-25","o":1.098,"h":1.12,"l":1.095,"c":1.117},
{"d":"2016-08-01","o":1.117,"h":1.124,"l":1.107,"c":1.109},
{"d":"2016-08-08","o":1.109,"h":1.118,"l":1.104,"c":1.116},
{"d":"2016-08-15","o":1.116,"h":1.136,"l":1.114,"c":1.132},
{"d":"2016-08-22","o":1.132,"h":1.134,"l":1.118,"c":1.12},
{"d":"2016-08-29","o":1.12,"h":1.128,"l":1.112,"c":1.116},
{"d":"2016-09-05","o":1.116,"h":1.133,"l":1.114,"c":1.123},
{"d":"2016-09-12","o":1.123,"h":1.13,"l":1.113,"c":1.115},
{"d":"2016-09-19","o":1.115,"h":1.127,"l":1.113,"c":1.122},
{"d":"2016-09-26","o":1.122,"h":1.128,"l":1.115,"c":1.124},
{"d":"2016-10-03","o":1.124,"h":1.125,"l":1.103,"c":1.12},
{"d":"2016-10-10","o":1.12,"h":1.121,"l":1.096,"c":1.097},
{"d":"2016-10-17","o":1.097,"h":1.104,"l":1.086,"c":1.089},
{"d":"2016-10-24","o":1.089,"h":1.099,"l":1.086,"c":1.098},
{"d":"2016-10-31","o":1.098,"h":1.115,"l":1.096,"c":1.114},
{"d":"2016-11-07","o":1.114,"h":1.13,"l":1.085,"c":1.086},
{"d":"2016-11-14","o":1.086,"h":1.088,"l":1.058,"c":1.059},
{"d":"2016-11-21","o":1.059,"h":1.066,"l":1.052,"c":1.06},
{"d":"2016-11-28","o":1.06,"h":1.071,"l":1.055,"c":1.066},
{"d":"2016-12-05","o":1.066,"h":1.087,"l":1.052,"c":1.056},
{"d":"2016-12-12","o":1.056,"h":1.068,"l":1.037,"c":1.045},
{"d":"2016-12-19","o":1.045,"h":1.047,"l":1.035,"c":1.044},
{"d":"2016-12-26","o":1.044,"h":1.058,"l":1.04,"c":1.052},
{"d":"2017-01-02","o":1.052,"h":1.062,"l":1.034,"c":1.053},
{"d":"2017-01-09","o":1.053,"h":1.069,"l":1.046,"c":1.064},
{"d":"2017-01-16","o":1.064,"h":1.073,"l":1.056,"c":1.07},
{"d":"2017-01-23","o":1.07,"h":1.078,"l":1.066,"c":1.069},
{"d":"2017-01-30","o":1.069,"h":1.083,"l":1.062,"c":1.078},
{"d":"2017-02-06","o":1.078,"h":1.079,"l":1.06,"c":1.064},
{"d":"2017-02-13","o":1.064,"h":1.068,"l":1.052,"c":1.062},
{"d":"2017-02-20","o":1.062,"h":1.066,"l":1.05,"c":1.056},
{"d":"2017-02-27","o":1.056,"h":1.066,"l":1.049,"c":1.062},
{"d":"2017-03-06","o":1.062,"h":1.071,"l":1.053,"c":1.067},
{"d":"2017-03-13","o":1.067,"h":1.077,"l":1.061,"c":1.074},
{"d":"2017-03-20","o":1.074,"h":1.083,"l":1.071,"c":1.08},
{"d":"2017-03-27","o":1.08,"h":1.091,"l":1.064,"c":1.065},
{"d":"2017-04-03","o":1.065,"h":1.071,"l":1.058,"c":1.059},
{"d":"2017-04-10","o":1.059,"h":1.069,"l":1.055,"c":1.062},
{"d":"2017-04-17","o":1.062,"h":1.078,"l":1.06,"c":1.073},
{"d":"2017-04-24","o":1.073,"h":1.098,"l":1.071,"c":1.09},
{"d":"2017-05-01","o":1.09,"h":1.1,"l":1.084,"c":1.099},
{"d":"2017-05-08","o":1.099,"h":1.1,"l":1.084,"c":1.093},
{"d":"2017-05-15","o":1.093,"h":1.124,"l":1.092,"c":1.121},
{"d":"2017-05-22","o":1.121,"h":1.127,"l":1.115,"c":1.118},
{"d":"2017-05-29","o":1.118,"h":1.129,"l":1.115,"c":1.128},
{"d":"2017-06-05","o":1.128,"h":1.13,"l":1.119,"c":1.12},
{"d":"2017-06-12","o":1.12,"h":1.13,"l":1.113,"c":1.119},
{"d":"2017-06-19","o":1.119,"h":1.122,"l":1.112,"c":1.12},
{"d":"2017-06-26","o":1.12,"h":1.145,"l":1.118,"c":1.142},
{"d":"2017-07-03","o":1.142,"h":1.145,"l":1.132,"c":1.14},
{"d":"2017-07-10","o":1.14,"h":1.149,"l":1.136,"c":1.147},
{"d":"2017-07-17","o":1.147,"h":1.168,"l":1.145,"c":1.166},
{"d":"2017-07-24","o":1.166,"h":1.178,"l":1.16,"c":1.175},
{"d":"2017-07-31","o":1.175,"h":1.191,"l":1.172,"c":1.177},
{"d":"2017-08-07","o":1.177,"h":1.183,"l":1.168,"c":1.182},
{"d":"2017-08-14","o":1.182,"h":1.183,"l":1.166,"c":1.176},
{"d":"2017-08-21","o":1.176,"h":1.194,"l":1.171,"c":1.192},
{"d":"2017-08-28","o":1.192,"h":1.207,"l":1.186,"c":1.187},
{"d":"2017-09-04","o":1.187,"h":1.209,"l":1.185,"c":1.203},
{"d":"2017-09-11","o":1.203,"h":1.204,"l":1.187,"c":1.195},
{"d":"2017-09-18","o":1.195,"h":1.204,"l":1.182,"c":1.196},
{"d":"2017-09-25","o":1.196,"h":1.197,"l":1.172,"c":1.181},
{"d":"2017-10-02","o":1.181,"h":1.182,"l":1.167,"c":1.173},
{"d":"2017-10-09","o":1.173,"h":1.188,"l":1.171,"c":1.182},
{"d":"2017-10-16","o":1.182,"h":1.184,"l":1.173,"c":1.178},
{"d":"2017-10-23","o":1.178,"h":1.188,"l":1.157,"c":1.161},
{"d":"2017-10-30","o":1.161,"h":1.169,"l":1.157,"c":1.16},
{"d":"2017-11-06","o":1.16,"h":1.167,"l":1.154,"c":1.166},
{"d":"2017-11-13","o":1.166,"h":1.186,"l":1.164,"c":1.18},
{"d":"2017-11-20","o":1.18,"h":1.194,"l":1.172,"c":1.193},
{"d":"2017-11-27","o":1.193,"h":1.196,"l":1.182,"c":1.189},
{"d":"2017-12-04","o":1.189,"h":1.19,"l":1.172,"c":1.177},
{"d":"2017-12-11","o":1.177,"h":1.186,"l":1.171,"c":1.174},
{"d":"2017-12-18","o":1.174,"h":1.19,"l":1.173,"c":1.186},
{"d":"2017-12-25","o":1.186,"h":1.202,"l":1.185,"c":1.2},
{"d":"2018-01-01","o":1.2,"h":1.209,"l":1.199,"c":1.203},
{"d":"2018-01-08","o":1.203,"h":1.221,"l":1.191,"c":1.22},
{"d":"2018-01-15","o":1.22,"h":1.23,"l":1.217,"c":1.222},
{"d":"2018-01-22","o":1.222,"h":1.254,"l":1.221,"c":1.243},
{"d":"2018-01-29","o":1.243,"h":1.252,"l":1.236,"c":1.246},
{"d":"2018-02-05","o":1.246,"h":1.247,"l":1.22,"c":1.229},
{"d":"2018-02-12","o":1.229,"h":1.255,"l":1.228,"c":1.241},
{"d":"2018-02-19","o":1.241,"h":1.243,"l":1.226,"c":1.229},
{"d":"2018-02-26","o":1.229,"h":1.235,"l":1.215,"c":1.232},
{"d":"2018-03-05","o":1.232,"h":1.245,"l":1.226,"c":1.231},
{"d":"2018-03-12","o":1.231,"h":1.245,"l":1.226,"c":1.229},
{"d":"2018-03-19","o":1.229,"h":1.245,"l":1.223,"c":1.235},
{"d":"2018-03-26","o":1.235,"h":1.248,"l":1.228,"c":1.232},
{"d":"2018-04-02","o":1.232,"h":1.233,"l":1.221,"c":1.228},
{"d":"2018-04-09","o":1.228,"h":1.24,"l":1.227,"c":1.233},
{"d":"2018-04-16","o":1.233,"h":1.241,"l":1.226,"c":1.228},
{"d":"2018-04-23","o":1.228,"h":1.23,"l":1.205,"c":1.213},
{"d":"2018-04-30","o":1.213,"h":1.214,"l":1.191,"c":1.196},
{"d":"2018-05-07","o":1.196,"h":1.197,"l":1.182,"c":1.194},
{"d":"2018-05-14","o":1.194,"h":1.197,"l":1.172,"c":1.177},
{"d":"2018-05-21","o":1.177,"h":1.181,"l":1.162,"c":1.165},
{"d":"2018-05-28","o":1.165,"h":1.172,"l":1.151,"c":1.166},
{"d":"2018-06-04","o":1.166,"h":1.184,"l":1.164,"c":1.177},
{"d":"2018-06-11","o":1.177,"h":1.185,"l":1.155,"c":1.161},
{"d":"2018-06-18","o":1.161,"h":1.166,"l":1.151,"c":1.165},
{"d":"2018-06-25","o":1.165,"h":1.172,"l":1.153,"c":1.168},
{"d":"2018-07-02","o":1.168,"h":1.177,"l":1.159,"c":1.175},
{"d":"2018-07-09","o":1.175,"h":1.179,"l":1.162,"c":1.168},
{"d":"2018-07-16","o":1.168,"h":1.175,"l":1.158,"c":1.172},
{"d":"2018-07-23","o":1.172,"h":1.175,"l":1.163,"c":1.166},
{"d":"2018-07-30","o":1.166,"h":1.174,"l":1.153,"c":1.157},
{"d":"2018-08-06","o":1.157,"h":1.164,"l":1.14,"c":1.141},
{"d":"2018-08-13","o":1.141,"h":1.146,"l":1.13,"c":1.144},
{"d":"2018-08-20","o":1.144,"h":1.166,"l":1.142,"c":1.162},
{"d":"2018-08-27","o":1.162,"h":1.174,"l":1.159,"c":1.16},
{"d":"2018-09-03","o":1.16,"h":1.166,"l":1.151,"c":1.155},
{"d":"2018-09-10","o":1.155,"h":1.172,"l":1.151,"c":1.162},
{"d":"2018-09-17","o":1.162,"h":1.181,"l":1.161,"c":1.176},
{"d":"2018-09-24","o":1.176,"h":1.182,"l":1.16,"c":1.161},
{"d":"2018-10-01","o":1.161,"h":1.162,"l":1.147,"c":1.152},
{"d":"2018-10-08","o":1.152,"h":1.162,"l":1.143,"c":1.156},
{"d":"2018-10-15","o":1.156,"h":1.162,"l":1.143,"c":1.151},
{"d":"2018-10-22","o":1.151,"h":1.152,"l":1.134,"c":1.14},
{"d":"2018-10-29","o":1.14,"h":1.146,"l":1.13,"c":1.139},
{"d":"2018-11-05","o":1.139,"h":1.15,"l":1.133,"c":1.134},
{"d":"2018-11-12","o":1.134,"h":1.143,"l":1.122,"c":1.142},
{"d":"2018-11-19","o":1.142,"h":1.147,"l":1.133,"c":1.134},
{"d":"2018-11-26","o":1.134,"h":1.141,"l":1.127,"c":1.132},
{"d":"2018-12-03","o":1.132,"h":1.142,"l":1.131,"c":1.138},
{"d":"2018-12-10","o":1.138,"h":1.144,"l":1.127,"c":1.13},
{"d":"2018-12-17","o":1.13,"h":1.145,"l":1.129,"c":1.137},
{"d":"2018-12-24","o":1.137,"h":1.147,"l":1.135,"c":1.144},
{"d":"2018-12-31","o":1.144,"h":1.15,"l":1.131,"c":1.139},
{"d":"2019-01-07","o":1.139,"h":1.157,"l":1.138,"c":1.147},
{"d":"2019-01-14","o":1.147,"h":1.15,"l":1.135,"c":1.136},
{"d":"2019-01-21","o":1.136,"h":1.142,"l":1.129,"c":1.141},
{"d":"2019-01-28","o":1.141,"h":1.151,"l":1.139,"c":1.146},
{"d":"2019-02-04","o":1.146,"h":1.147,"l":1.132,"c":1.133},
{"d":"2019-02-11","o":1.133,"h":1.135,"l":1.125,"c":1.13},
{"d":"2019-02-18","o":1.13,"h":1.138,"l":1.126,"c":1.133},
{"d":"2019-02-25","o":1.133,"h":1.142,"l":1.132,"c":1.137},
{"d":"2019-03-04","o":1.137,"h":1.138,"l":1.118,"c":1.124},
{"d":"2019-03-11","o":1.124,"h":1.134,"l":1.121,"c":1.133},
{"d":"2019-03-18","o":1.133,"h":1.145,"l":1.129,"c":1.13},
{"d":"2019-03-25","o":1.13,"h":1.133,"l":1.121,"c":1.122},
{"d":"2019-04-01","o":1.122,"h":1.126,"l":1.118,"c":1.123},
{"d":"2019-04-08","o":1.123,"h":1.132,"l":1.121,"c":1.13},
{"d":"2019-04-15","o":1.13,"h":1.133,"l":1.122,"c":1.124},
{"d":"2019-04-22","o":1.124,"h":1.126,"l":1.111,"c":1.115},
{"d":"2019-04-29","o":1.115,"h":1.127,"l":1.113,"c":1.12},
{"d":"2019-05-06","o":1.12,"h":1.125,"l":1.115,"c":1.123},
{"d":"2019-05-13","o":1.123,"h":1.127,"l":1.115,"c":1.116},
{"d":"2019-05-20","o":1.116,"h":1.121,"l":1.111,"c":1.12},
{"d":"2019-05-27","o":1.12,"h":1.121,"l":1.113,"c":1.117},
{"d":"2019-06-03","o":1.117,"h":1.135,"l":1.116,"c":1.133},
{"d":"2019-06-10","o":1.133,"h":1.135,"l":1.12,"c":1.121},
{"d":"2019-06-17","o":1.121,"h":1.138,"l":1.118,"c":1.137},
{"d":"2019-06-24","o":1.137,"h":1.141,"l":1.132,"c":1.136},
{"d":"2019-07-01","o":1.136,"h":1.138,"l":1.121,"c":1.122},
{"d":"2019-07-08","o":1.122,"h":1.13,"l":1.119,"c":1.127},
{"d":"2019-07-15","o":1.127,"h":1.129,"l":1.12,"c":1.122},
{"d":"2019-07-22","o":1.122,"h":1.124,"l":1.11,"c":1.113},
{"d":"2019-07-29","o":1.113,"h":1.115,"l":1.103,"c":1.111},
{"d":"2019-08-05","o":1.111,"h":1.125,"l":1.109,"c":1.12},
{"d":"2019-08-12","o":1.12,"h":1.123,"l":1.105,"c":1.109},
{"d":"2019-08-19","o":1.109,"h":1.115,"l":1.104,"c":1.114},
{"d":"2019-08-26","o":1.114,"h":1.115,"l":1.096,"c":1.099},
{"d":"2019-09-02","o":1.099,"h":1.108,"l":1.093,"c":1.103},
{"d":"2019-09-09","o":1.103,"h":1.109,"l":1.093,"c":1.107},
{"d":"2019-09-16","o":1.107,"h":1.108,"l":1.098,"c":1.102},
{"d":"2019-09-23","o":1.102,"h":1.103,"l":1.09,"c":1.094},
{"d":"2019-09-30","o":1.094,"h":1.1,"l":1.088,"c":1.098},
{"d":"2019-10-07","o":1.098,"h":1.106,"l":1.094,"c":1.104},
{"d":"2019-10-14","o":1.104,"h":1.117,"l":1.101,"c":1.115},
{"d":"2019-10-21","o":1.115,"h":1.118,"l":1.106,"c":1.108},
{"d":"2019-10-28","o":1.108,"h":1.117,"l":1.106,"c":1.116},
{"d":"2019-11-04","o":1.116,"h":1.118,"l":1.1,"c":1.102},
{"d":"2019-11-11","o":1.102,"h":1.106,"l":1.099,"c":1.105},
{"d":"2019-11-18","o":1.105,"h":1.11,"l":1.101,"c":1.102},
{"d":"2019-11-25","o":1.102,"h":1.103,"l":1.097,"c":1.101},
{"d":"2019-12-02","o":1.101,"h":1.112,"l":1.1,"c":1.106},
{"d":"2019-12-09","o":1.106,"h":1.12,"l":1.104,"c":1.112},
{"d":"2019-12-16","o":1.112,"h":1.115,"l":1.107,"c":1.108},
{"d":"2019-12-23","o":1.108,"h":1.119,"l":1.107,"c":1.118},
{"d":"2019-12-30","o":1.118,"h":1.124,"l":1.113,"c":1.116},
{"d":"2020-01-06","o":1.116,"h":1.12,"l":1.108,"c":1.112},
{"d":"2020-01-13","o":1.112,"h":1.117,"l":1.107,"c":1.109},
{"d":"2020-01-20","o":1.109,"h":1.111,"l":1.102,"c":1.103},
{"d":"2020-01-27","o":1.103,"h":1.11,"l":1.099,"c":1.109},
{"d":"2020-02-03","o":1.109,"h":1.11,"l":1.094,"c":1.095},
{"d":"2020-02-10","o":1.095,"h":1.096,"l":1.083,"c":1.084},
{"d":"2020-02-17","o":1.084,"h":1.086,"l":1.078,"c":1.085},
{"d":"2020-02-24","o":1.085,"h":1.104,"l":1.079,"c":1.103},
{"d":"2020-03-02","o":1.103,"h":1.13,"l":1.102,"c":1.129},
{"d":"2020-03-09","o":1.129,"h":1.15,"l":1.106,"c":1.111},
{"d":"2020-03-16","o":1.111,"h":1.124,"l":1.064,"c":1.069},
{"d":"2020-03-23","o":1.069,"h":1.115,"l":1.064,"c":1.114},
{"d":"2020-03-30","o":1.114,"h":1.115,"l":1.077,"c":1.081},
{"d":"2020-04-06","o":1.081,"h":1.096,"l":1.077,"c":1.094},
{"d":"2020-04-13","o":1.094,"h":1.099,"l":1.081,"c":1.087},
{"d":"2020-04-20","o":1.087,"h":1.089,"l":1.073,"c":1.082},
{"d":"2020-04-27","o":1.082,"h":1.102,"l":1.081,"c":1.098},
{"d":"2020-05-04","o":1.098,"h":1.099,"l":1.078,"c":1.084},
{"d":"2020-05-11","o":1.084,"h":1.088,"l":1.075,"c":1.082},
{"d":"2020-05-18","o":1.082,"h":1.102,"l":1.08,"c":1.09},
{"d":"2020-05-25","o":1.09,"h":1.114,"l":1.088,"c":1.11},
{"d":"2020-06-01","o":1.11,"h":1.138,"l":1.108,"c":1.129},
{"d":"2020-06-08","o":1.129,"h":1.142,"l":1.124,"c":1.126},
{"d":"2020-06-15","o":1.126,"h":1.135,"l":1.117,"c":1.118},
{"d":"2020-06-22","o":1.118,"h":1.135,"l":1.116,"c":1.122},
{"d":"2020-06-29","o":1.122,"h":1.13,"l":1.118,"c":1.125},
{"d":"2020-07-06","o":1.125,"h":1.138,"l":1.122,"c":1.13},
{"d":"2020-07-13","o":1.13,"h":1.145,"l":1.127,"c":1.143},
{"d":"2020-07-20","o":1.143,"h":1.166,"l":1.14,"c":1.165},
{"d":"2020-07-27","o":1.165,"h":1.191,"l":1.163,"c":1.178},
{"d":"2020-08-03","o":1.178,"h":1.192,"l":1.171,"c":1.18},
{"d":"2020-08-10","o":1.18,"h":1.191,"l":1.171,"c":1.184},
{"d":"2020-08-17","o":1.184,"h":1.197,"l":1.175,"c":1.179},
{"d":"2020-08-24","o":1.179,"h":1.193,"l":1.175,"c":1.191},
{"d":"2020-08-31","o":1.191,"h":1.201,"l":1.179,"c":1.184},
{"d":"2020-09-07","o":1.184,"h":1.192,"l":1.176,"c":1.183},
{"d":"2020-09-14","o":1.183,"h":1.188,"l":1.174,"c":1.184},
{"d":"2020-09-21","o":1.184,"h":1.187,"l":1.162,"c":1.163},
{"d":"2020-09-28","o":1.163,"h":1.178,"l":1.161,"c":1.172},
{"d":"2020-10-05","o":1.172,"h":1.184,"l":1.17,"c":1.183},
{"d":"2020-10-12","o":1.183,"h":1.184,"l":1.169,"c":1.172},
{"d":"2020-10-19","o":1.172,"h":1.188,"l":1.171,"c":1.186},
{"d":"2020-10-26","o":1.186,"h":1.187,"l":1.162,"c":1.165},
{"d":"2020-11-02","o":1.165,"h":1.189,"l":1.16,"c":1.183},
{"d":"2020-11-09","o":1.183,"h":1.192,"l":1.175,"c":1.18},
{"d":"2020-11-16","o":1.18,"h":1.192,"l":1.175,"c":1.186},
{"d":"2020-11-23","o":1.186,"h":1.195,"l":1.18,"c":1.193},
{"d":"2020-11-30","o":1.193,"h":1.212,"l":1.185,"c":1.205},
{"d":"2020-12-07","o":1.205,"h":1.217,"l":1.2,"c":1.211},
{"d":"2020-12-14","o":1.211,"h":1.2197,"l":1.203,"c":1.2165}
]},
"vconcat":[
{
"width":1460,"height":728,
"view":{"fill":{"gradient":"linear","x1":0,"y1":0,"x2":0,"y2":1,"stops":[{"offset":0,"color":"#303030"},{"offset":1,"color":"#0b0b0b"}]},"stroke":null},
"layer":[
{"data":{"name":"ohlc"},"mark":{"type":"rule","strokeWidth":1},
 "encoding":{
  "x":{"field":"d","type":"temporal","scale":{"domain":[{"year":2006,"month":9,"date":26},{"year":2023,"month":5,"date":19}]},"axis":null},
  "y":{"field":"l","type":"quantitative","scale":{"type":"log","domain":[0.931,1.6403],"nice":false},
   "axis":{"orient":"right","values":[0.95,1,1.05,1.1,1.15,1.2,1.25,1.3,1.35,1.4,1.45,1.5,1.55,1.6],"format":"~g","labelExpr":"replace(datum.label,'.',',')","labelFontWeight":{"condition":{"test":"datum.value==1||datum.value==1.5","value":"bold"},"value":"normal"}}},
  "y2":{"field":"h"},
  "color":{"condition":{"test":"datum.c>=datum.o","value":"#1cc81c"},"value":"#f21ef2"}}},
{"data":{"name":"ohlc"},"mark":{"type":"bar","width":2},
 "encoding":{
  "x":{"field":"d","type":"temporal"},
  "y":{"field":"o","type":"quantitative"},
  "y2":{"field":"c"},
  "color":{"condition":{"test":"datum.c>=datum.o","value":"#1cc81c"},"value":"#f21ef2"}}},
{"data":{"values":[{"p":0.931}]},"mark":{"type":"rule","color":"#7a0000","strokeWidth":1},"encoding":{"y":{"field":"p","type":"quantitative"}}},
{"data":{"values":[{"p":1.2435}]},"mark":{"type":"rule","color":"#ff8040","strokeWidth":2},"encoding":{"y":{"field":"p","type":"quantitative"}}},
{"data":{"values":[{"a":"2021-09-02","b":"2023-04-28","p1":1.2438,"p2":1.2585}]},"mark":{"type":"rect","fill":"#181818","stroke":"#ff8040","strokeWidth":1},
 "encoding":{"x":{"field":"a","type":"temporal"},"x2":{"field":"b"},"y":{"field":"p1","type":"quantitative"},"y2":{"field":"p2"}}},
{"data":{"values":[{"a":"2023-04-14","p":1.2508,"t":"1,2435 (+1,95% +0,0238) - W"}]},"mark":{"type":"text","align":"right","baseline":"middle","color":"#ff9050","fontSize":10.5,"font":"Liberation Sans"},
 "encoding":{"x":{"field":"a","type":"temporal"},"y":{"field":"p","type":"quantitative"},"text":{"field":"t"}}},
{"data":{"values":[{"a":"2023-06-01","b":"2023-11-02","p1":1.217,"p2":1.2323}]},"mark":{"type":"rect","fill":"#ffd200","stroke":"#9898c0","strokeWidth":1},
 "encoding":{"x":{"field":"a","type":"temporal"},"x2":{"field":"b"},"y":{"field":"p1","type":"quantitative"},"y2":{"field":"p2"}}},
{"data":{"values":[{"a":"2023-05-28","b":"2023-11-23","p1":1.201,"p2":1.217}]},"mark":{"type":"rect","fill":"#111111","stroke":"#9898c0","strokeWidth":1},
 "encoding":{"x":{"field":"a","type":"temporal"},"x2":{"field":"b"},"y":{"field":"p1","type":"quantitative"},"y2":{"field":"p2"}}},
{"data":{"values":[{"a":"2023-06-01","b":"2023-11-02","p1":0.9243,"p2":0.9359}]},"mark":{"type":"rect","fill":"#ffff1e","stroke":"#9898c0","strokeWidth":1},
 "encoding":{"x":{"field":"a","type":"temporal"},"x2":{"field":"b"},"y":{"field":"p1","type":"quantitative"},"y2":{"field":"p2"}}},
{"data":{"values":[{"a":"2023-08-18","p":1.2245,"t":"1,2197"},{"a":"2023-08-18","p":0.9301,"t":"0,9310"}]},"mark":{"type":"text","align":"center","baseline":"middle","color":"#333322","fontSize":11,"font":"Liberation Sans"},
 "encoding":{"x":{"field":"a","type":"temporal"},"y":{"field":"p","type":"quantitative"},"text":{"field":"t"}}},
{"data":{"values":[{"a":"2023-08-25","p":1.2089,"t":"1,2165"}]},"mark":{"type":"text","align":"center","baseline":"middle","color":"#ffffff","fontSize":12.5,"font":"Liberation Sans"},
 "encoding":{"x":{"field":"a","type":"temporal"},"y":{"field":"p","type":"quantitative"},"text":{"field":"t"}}}
]
},
{
"width":1460,"height":152,
"view":{"fill":"#000000","stroke":null},
"layer":[
{"data":{"values":[{"a":"2006-09-26","b":"2009-09-16","v1":-1.55,"v2":-1.07}]},"mark":{"type":"rect","fill":"#e4e4ee","stroke":"#9a9abc","strokeWidth":1},
 "encoding":{
  "x":{"field":"a","type":"temporal","scale":{"domain":[{"year":2006,"month":9,"date":26},{"year":2023,"month":5,"date":19}]},
   "axis":{"orient":"bottom","tickCount":{"interval":"year","step":1},"format":"%Y","labelFontSize":12,"labelColor":"#14143a","labelPadding":3,"tickSize":4,"tickColor":"#9090b0","domain":true,"domainColor":"#8a8aaa","labelFlush":false,"labelOverlap":false}},
  "x2":{"field":"b"},
  "y":{"field":"v1","type":"quantitative","scale":{"domain":[-1.55,2.98],"nice":false,"zero":false},
   "axis":{"orient":"right","values":[-0.5,0,0.5,1],"format":"~g","labelExpr":"replace(datum.label,'.',',')","labelFontWeight":{"condition":{"test":"datum.value==0","value":"bold"},"value":"normal"}}},
  "y2":{"field":"v2"}}},
{"data":{"values":[{"a":"2008-05-22","b":"2008-06-12","v1":-1.44,"v2":-1.18}]},"mark":{"type":"rect","fill":"#40c040"},
 "encoding":{"x":{"field":"a","type":"temporal"},"x2":{"field":"b"},"y":{"field":"v1","type":"quantitative"},"y2":{"field":"v2"}}},
{"data":{"values":[{"a":"2008-06-12","b":"2008-07-02","v1":-1.44,"v2":-1.18}]},"mark":{"type":"rect","fill":"#e06060"},
 "encoding":{"x":{"field":"a","type":"temporal"},"x2":{"field":"b"},"y":{"field":"v1","type":"quantitative"},"y2":{"field":"v2"}}},
{"data":{"values":[
 {"a":"2006-09-28","v":-1.31,"t":"sciato (9 2 5)","k":"n"},
 {"a":"2007-07-03","v":-1.31,"t":"22,439","k":"y"},
 {"a":"2007-12-04","v":-1.31,"t":"31,748","k":"g"},
 {"a":"2008-07-15","v":-1.31,"t":"Var (%)","k":"n"},
 {"a":"2008-12-24","v":-1.31,"t":"0,2482","k":"g"},
 {"a":"2009-07-12","v":-1.31,"t":"⧉","k":"n"}]},
 "mark":{"type":"text","align":"left","baseline":"middle","fontSize":11,"font":"Liberation Sans"},
 "encoding":{"x":{"field":"a","type":"temporal"},"y":{"field":"v","type":"quantitative"},"text":{"field":"t"},
  "color":{"field":"k","type":"nominal","scale":{"domain":["n","y","g"],"range":["#1a1a3a","#e0e020","#3ccc3c"]},"legend":null}}},
{"data":{"values":[
 {"a":"2010-10-13","v":0.25},{"a":"2011-01-16","v":0.25},{"a":"2011-05-05","v":0.25},{"a":"2011-10-05","v":0.25},
 {"a":"2012-05-09","v":0.25},{"a":"2013-01-19","v":0.25},{"a":"2013-03-08","v":0.25},{"a":"2013-07-19","v":0.25},
 {"a":"2011-05-22","v":-0.17},{"a":"2013-09-13","v":-0.17},{"a":"2014-01-15","v":-0.17},{"a":"2014-05-08","v":-0.17},{"a":"2015-03-08","v":-0.17}]},
 "mark":{"type":"square","size":3,"color":"#8a8aa0","opacity":1},
 "encoding":{"x":{"field":"a","type":"temporal"},"y":{"field":"v","type":"quantitative"}}}
]
}
]
}
